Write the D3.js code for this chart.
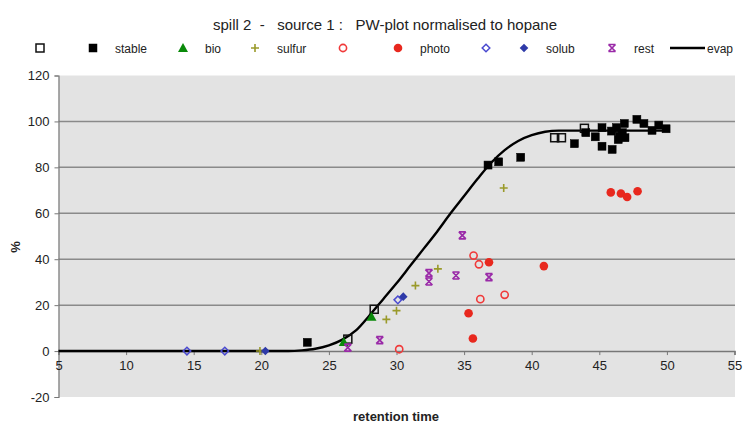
<!DOCTYPE html>
<html lang="en">
<head>
<meta charset="UTF-8">
<title>PW-plot normalised to hopane</title>
<script src="https://cdn.jsdelivr.net/npm/d3@7"></script>
<style>
body { margin: 0; background: #fff; }
text { font-family: Arial, "Liberation Sans", sans-serif; fill: #222; }
</style>
</head>
<body>
<svg id="chart" width="743" height="427"></svg>
<script>
// values: [retention time, %]
let openSq = [[26.4, 5.2], [28.35, 18.2], [41.7, 92.9], [42.2, 92.9], [43.9, 97]]
let stable = [[23.4, 3.8], [36.77, 81], [37.56, 82.4], [39.19, 84.4], [43.16, 90.3], [44.0, 95.1],
	[44.7, 93.3], [45.2, 97.3], [45.2, 89.2], [45.95, 87.8], [45.9, 95.8], [46.27, 97.3], [46.5, 93.6],
	[46.4, 92.1], [46.85, 99.1], [46.9, 92.9], [46.7, 95.1], [47.78, 100.9], [48.3, 99.1], [48.9, 96.1],
	[49.4, 98.4], [49.94, 96.8]]
let bio = [[26.1, 4.0], [28.15, 14.9]]
let sulfur = [[19.9, 0], [29.25, 13.8], [30.0, 17.6], [31.4, 28.5], [33.06, 35.8], [37.93, 71.0]]
let openCirc = [[30.2, 0.8], [35.7, 41.6], [36.1, 37.8], [36.2, 22.6], [38.0, 24.5]]
let photo = [[35.33, 16.5], [35.65, 5.5], [36.84, 38.7], [40.9, 37], [45.85, 69.1], [46.6, 68.6],
	[47.06, 67.1], [47.83, 69.6]]
let openDia = [[14.5, 0], [17.3, 0], [30.1, 22.3]]
let solub = [[20.3, 0], [30.5, 23.7]]
let rest = [[26.4, 1.5], [28.76, 4.8], [32.4, 33.9], [32.4, 30.3], [34.4, 32.9], [34.87, 50.4], [36.84, 32.2]]
let evap = [[5, 0], [22, 0], [23, 0.3], [24, 1], [25, 2.5], [26, 5], [27, 9], [28, 15.5], [29, 22.5],
	[30, 29.5], [31, 37], [32, 44.5], [33, 52], [34, 60], [35, 67.5], [36, 75], [37, 82], [38, 87.5],
	[39, 91.5], [40, 94], [41, 95.5], [42, 96], [50, 96]]

let xTicks = d3.range(5, 56, 5)
let yTicks = d3.range(-20, 121, 20)

let series = [
	{ name: '', data: openSq, shape: 'square', fill: 'none', stroke: '#111', lx: 40 },
	{ name: 'stable', data: stable, shape: 'square', fill: '#000', stroke: '#000', lx: 93 },
	{ name: 'bio', data: bio, shape: 'triangle', fill: '#0a8a0a', stroke: '#0a8a0a', lx: 183 },
	{ name: 'sulfur', data: sulfur, shape: 'plus', fill: 'none', stroke: '#9a9a2a', lx: 255 },
	{ name: '', data: openCirc, shape: 'circle', fill: 'none', stroke: '#f03a3a', lx: 343 },
	{ name: 'photo', data: photo, shape: 'circle', fill: '#e8281e', stroke: '#e8281e', lx: 398 },
	{ name: '', data: openDia, shape: 'diamond', fill: 'none', stroke: '#4a4ad0', lx: 486 },
	{ name: 'solub', data: solub, shape: 'diamond', fill: '#2e3aa8', stroke: '#2e3aa8', lx: 524 },
	{ name: 'rest', data: rest, shape: 'rest', fill: 'none', stroke: '#9a2aa8', lx: 612 },
]

let svg = d3.select('#chart')
let x = d3.scaleLinear().domain([5, 55]).range([58.5, 734.5])
let y = d3.scaleLinear().domain([-20, 120]).range([397, 75.5])

// plot area
svg.append('rect')
	.attr('x', x(5)).attr('y', y(120))
	.attr('width', 735 - x(5)).attr('height', y(-20) - y(120))
	.attr('fill', '#e3e3e3')

// gridlines
svg.append('g').selectAll('line')
	.data(yTicks.filter(d => d > 0 && d < 120))
	.join('line')
	.attr('x1', x(5)).attr('x2', 735)
	.attr('y1', d => y(d)).attr('y2', d => y(d))
	.attr('stroke', '#8a8a8a').attr('stroke-width', 1.5)

// y axis
let yAxis = svg.append('g')
	.attr('transform', `translate(${x(5)},0)`)
	.call(d3.axisLeft(y).tickValues(yTicks).tickFormat(d => String(d)).tickSize(4).tickPadding(5))
yAxis.select('.domain').attr('stroke', '#777').attr('stroke-width', 1.2)
yAxis.selectAll('.tick line').attr('stroke', '#777')
yAxis.selectAll('text').attr('font-size', 13).attr('fill', '#333')
	.style('font-family', 'Arial, "Liberation Sans", sans-serif')

// x axis crossing at 0
let xAxis = svg.append('g')
	.attr('transform', `translate(0,${y(0)})`)
	.call(d3.axisBottom(x).tickValues(xTicks).tickSize(4).tickPadding(6))
xAxis.select('.domain').attr('stroke', '#777').attr('stroke-width', 1.5)
xAxis.selectAll('.tick line').attr('stroke', '#777')
xAxis.selectAll('text').attr('font-size', 13).attr('fill', '#333')
	.style('font-family', 'Arial, "Liberation Sans", sans-serif')

// evap curve
let line = d3.line().x(d => x(d[0])).y(d => y(d[1])).curve(d3.curveMonotoneX)
svg.append('path')
	.datum(evap)
	.attr('d', line)
	.attr('fill', 'none').attr('stroke', '#000').attr('stroke-width', 2.4)

function marker(g, s) {
	if (s.shape === 'square') {
		g.append('rect').attr('x', -4).attr('y', -4).attr('width', 8).attr('height', 8)
			.attr('fill', s.fill).attr('stroke', s.stroke).attr('stroke-width', s.fill === 'none' ? 1.5 : 0.5)
	} else if (s.shape === 'triangle') {
		g.append('path').attr('d', 'M0,-5L5,4L-5,4Z').attr('fill', s.fill)
	} else if (s.shape === 'plus') {
		g.append('path').attr('d', 'M-4,0H4M0,-4V4').attr('stroke', s.stroke).attr('stroke-width', 1.6)
	} else if (s.shape === 'circle') {
		g.append('circle').attr('r', s.fill === 'none' ? 3.6 : 4.3)
			.attr('fill', s.fill).attr('stroke', s.stroke).attr('stroke-width', s.fill === 'none' ? 1.6 : 0)
	} else if (s.shape === 'diamond') {
		let r = s.fill === 'none' ? 3.8 : 4.3
		g.append('path').attr('d', `M0,${-r}L${r},0L0,${r}L${-r},0Z`)
			.attr('fill', s.fill).attr('stroke', s.stroke).attr('stroke-width', s.fill === 'none' ? 1.5 : 0)
	} else if (s.shape === 'rest') {
		g.append('path').attr('d', 'M-3.5,-3.5H3.5M-3.5,3.5H3.5M-3.5,-3.5L3.5,3.5M3.5,-3.5L-3.5,3.5')
			.attr('stroke', s.stroke).attr('stroke-width', 1.7).attr('fill', 'none')
	}
}

// points
series.forEach(s => {
	svg.append('g').selectAll('g')
		.data(s.data)
		.join('g')
		.attr('transform', d => `translate(${x(d[0])},${y(d[1])})`)
		.each(function () { marker(d3.select(this), s) })
})

// legend
let legY = 48
series.forEach(s => {
	let g = svg.append('g').attr('transform', `translate(${s.lx},${legY})`)
	marker(g, s)
	if (s.name) {
		g.append('text').attr('x', 22).attr('y', 4.5).attr('font-size', 12).text(s.name)
	}
})
svg.append('line').attr('x1', 670).attr('x2', 705).attr('y1', legY).attr('y2', legY)
	.attr('stroke', '#000').attr('stroke-width', 2.4)
svg.append('text').attr('x', 707).attr('y', legY + 4.5).attr('font-size', 12).text('evap')

// titles
svg.append('text').attr('x', 385).attr('y', 30).attr('text-anchor', 'middle')
	.attr('font-size', 15).attr('xml:space', 'preserve')
	.text('spill 2  -   source 1 :   PW-plot normalised to hopane')
svg.append('text').attr('x', 396).attr('y', 421).attr('text-anchor', 'middle')
	.attr('font-size', 13).attr('font-weight', 'bold').text('retention time')
svg.append('text').attr('transform', 'translate(20,247) rotate(-90)').attr('text-anchor', 'middle')
	.attr('font-size', 13).attr('font-weight', 'bold').text('%')
</script>
</body>
</html>
